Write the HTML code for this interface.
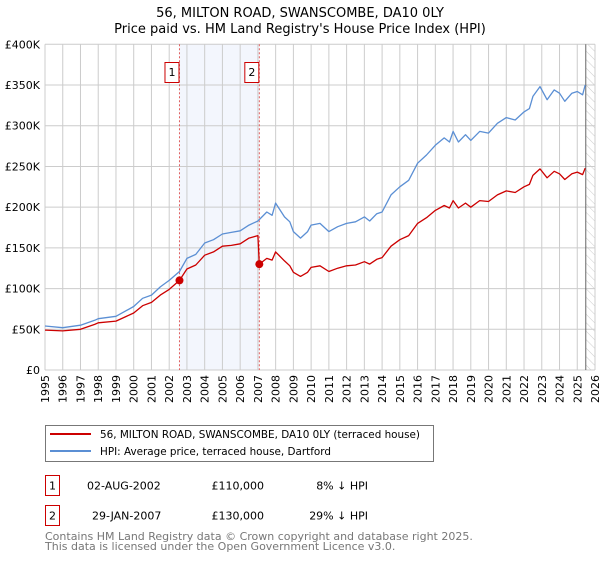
<!DOCTYPE html>
<html><head><meta charset="utf-8"><style>
body{margin:0;background:#fff;font-family:"DejaVu Sans","Liberation Sans",sans-serif}
svg text{font-family:"DejaVu Sans","Liberation Sans",sans-serif}
</style></head><body>
<svg id="c" width="600" height="560" xmlns="http://www.w3.org/2000/svg">
<defs><pattern id="hatch" width="6" height="6" patternUnits="userSpaceOnUse" patternTransform="rotate(-45)"><line x1="0" y1="0" x2="0" y2="6" stroke="#ccc" stroke-width="1"/></pattern></defs>
<text x="300" y="17" text-anchor="middle" font-size="13" fill="#000">56, MILTON ROAD, SWANSCOMBE, DA10 0LY</text>
<text x="300" y="33" text-anchor="middle" font-size="13" fill="#000">Price paid vs. HM Land Registry's House Price Index (HPI)</text>
<g id="plot"></g>
<g>
<rect x="45.5" y="425.5" width="388" height="36" fill="#fff" stroke="#777"/>
<line x1="50" y1="434" x2="91" y2="434" stroke="#cc0000" stroke-width="2"/>
<text x="100" y="438" font-size="10.4">56, MILTON ROAD, SWANSCOMBE, DA10 0LY (terraced house)</text>
<line x1="50" y1="451" x2="91" y2="451" stroke="#5b8fd4" stroke-width="2"/>
<text x="100" y="455" font-size="10.4">HPI: Average price, terraced house, Dartford</text>
</g>
<g font-size="11">
<rect x="45.5" y="475.5" width="14" height="20" fill="#fff" stroke="#cc0000"/>
<text x="52.5" y="489.5" text-anchor="middle">1</text>
<text x="87" y="489.5">02-AUG-2002</text>
<text x="264" y="489.5" text-anchor="end">£110,000</text>
<text x="368" y="489.5" text-anchor="end">8% ↓ HPI</text>
<rect x="45.5" y="505.5" width="14" height="20" fill="#fff" stroke="#cc0000"/>
<text x="52.5" y="519.5" text-anchor="middle">2</text>
<text x="92" y="519.5">29-JAN-2007</text>
<text x="264" y="519.5" text-anchor="end">£130,000</text>
<text x="368" y="519.5" text-anchor="end">29% ↓ HPI</text>
</g>
<text x="45" y="540" font-size="11" fill="#777">Contains HM Land Registry data © Crown copyright and database right 2025.</text>
<text x="45" y="550" font-size="11" fill="#777">This data is licensed under the Open Government Licence v3.0.</text>
</svg>
<script>
const hpiYears=[1995,1996,1997,1997.8,1998,1999,2000,2000.5,2001,2001.5,2002,2002.58,2003,2003.5,2004,2004.5,2005,2005.5,2006,2006.5,2007,2007.5,2007.8,2008,2008.5,2008.8,2009,2009.4,2009.8,2010,2010.5,2011,2011.5,2012,2012.5,2013,2013.3,2013.7,2014,2014.5,2015,2015.5,2016,2016.5,2017,2017.5,2017.8,2018,2018.3,2018.7,2019,2019.5,2020,2020.5,2021,2021.5,2022,2022.3,2022.5,2022.9,2023.3,2023.7,2024,2024.3,2024.7,2025,2025.3,2025.45];
const hpiValues=[54,52,55,61,63,66,78,88,92,102,110,121,137,142,156,160,167,169,171,178,183,194,190,205,188,182,170,162,170,178,180,170,176,180,182,188,183,192,194,215,225,233,254,264,276,285,280,293,280,289,282,293,291,303,310,307,317,321,336,348,332,344,340,330,340,342,338,350];
const priceYears=[1995,1996,1997,1997.8,1998,1999,2000,2000.5,2001,2001.5,2002,2002.58,2003,2003.5,2004,2004.5,2005,2005.5,2006,2006.5,2007,2007.08,2007.5,2007.8,2008,2008.5,2008.8,2009,2009.4,2009.8,2010,2010.5,2011,2011.5,2012,2012.5,2013,2013.3,2013.7,2014,2014.5,2015,2015.5,2016,2016.5,2017,2017.5,2017.8,2018,2018.3,2018.7,2019,2019.5,2020,2020.5,2021,2021.5,2022,2022.3,2022.5,2022.9,2023.3,2023.7,2024,2024.3,2024.7,2025,2025.3,2025.45];
const priceValues=[49,48,50,56,58,60,70,79,83,92,99,110,124,129,141,145,152,153,155,162,165,130,137,135,145,134,128,120,115,120,126,128,121,125,128,129,133,130,136,138,152,160,165,180,187,196,202,199,208,199,205,200,208,207,215,220,218,225,228,239,247,236,244,241,234,241,243,240,248];
const saleYears=[2002.58,2007.08];
const saleValues=[110,130];
const saleLabels=["1","2"];
const yTicks=[0,50,100,150,200,250,300,350,400];
const yTickLabels=["£0","£50K","£100K","£150K","£200K","£250K","£300K","£350K","£400K"];
const xTicks=[1995,1996,1997,1998,1999,2000,2001,2002,2003,2004,2005,2006,2007,2008,2009,2010,2011,2012,2013,2014,2015,2016,2017,2018,2019,2020,2021,2022,2023,2024,2025,2026];
const futureStart=2025.48;

const X0=45,X1=595,Y0=370,Y1=44.3;
const xs=y=>X0+(y-1995)/(2026-1995)*(X1-X0);
const ys=v=>Y0-v/400*(Y0-Y1);
const NS="http://www.w3.org/2000/svg";
const g=document.getElementById('plot');
function mk(t,a){const e=document.createElementNS(NS,t);for(const k in a)e.setAttribute(k,a[k]);g.appendChild(e);return e;}

let e=mk('rect',{x:xs(saleYears[0]),y:Y1,width:xs(saleYears[1])-xs(saleYears[0]),height:Y0-Y1,fill:'#f3f6fd'});


e=mk('rect',{x:xs(futureStart),y:Y1,width:X1-xs(futureStart),height:Y0-Y1,fill:'url(#hatch)'});



xTicks.forEach(t=>{
  let l=mk('line',{x1:xs(t),x2:xs(t),y1:Y1,y2:Y0,stroke:'#ccc','stroke-width':1});
  
  
  let tx=mk('text',{x:0,y:0,'font-size':11,'text-anchor':'end',transform:`translate(${xs(t)+4},${Y0+5}) rotate(-90)`});
  tx.textContent=t;
  
  
});
yTicks.forEach((t,i)=>{
  let l=mk('line',{x1:X0,x2:X1,y1:ys(t),y2:ys(t),stroke:'#ccc','stroke-width':1});
  
  
  let tx=mk('text',{x:40,y:ys(t)+4,'font-size':11,'text-anchor':'end'});
  tx.textContent=yTickLabels[i];
  
  
});
e=mk('line',{x1:xs(futureStart),x2:xs(futureStart),y1:Y1,y2:Y0,stroke:'#666','stroke-width':1});



saleYears.forEach((s,i)=>{
  let l=mk('line',{x1:xs(s),x2:xs(s),y1:Y1,y2:Y0,stroke:'#e06060','stroke-width':1,'stroke-dasharray':'2,2'});
  
  
});

function path(xa,va,col,name){
  const d=xa.map((x,i)=>(i?'L':'M')+xs(x).toFixed(1)+','+ys(va[i]).toFixed(1)).join('');
  const p=mk('path',{d:d,fill:'none',stroke:col,'stroke-width':1.3,'stroke-linejoin':'round'});
  
  
}
path(hpiYears,hpiValues,'#5b8fd4','hpi-line');
path(priceYears,priceValues,'#cc0000','price-paid-line');

saleYears.forEach((s,i)=>{
  let c=mk('circle',{cx:xs(s),cy:ys(saleValues[i]),r:4,fill:'#cc0000'});
  
  
  let r=mk('rect',{x:xs(s)-14.5,y:62.5,width:14,height:20,fill:'#fff',stroke:'#cc0000'});
  
  
  let t=mk('text',{x:xs(s)-7.5,y:76,'font-size':11,'text-anchor':'middle'});
  t.textContent=saleLabels[i];
  
  
});
</script>
</body></html>
